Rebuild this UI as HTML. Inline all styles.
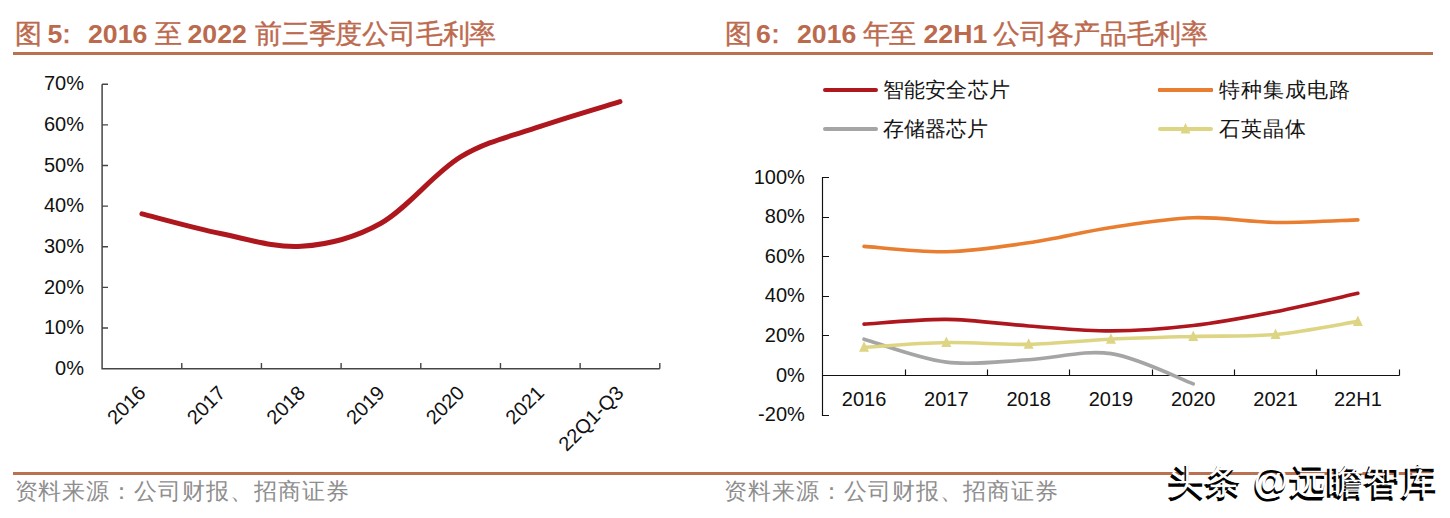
<!DOCTYPE html>
<html><head><meta charset="utf-8"><style>
html,body{margin:0;padding:0;background:#fff;width:1450px;height:518px;overflow:hidden;position:relative}
.t{position:absolute;font-family:"Liberation Sans",sans-serif;white-space:nowrap}
.title{font-size:26.67px;font-weight:bold;color:#BC6A4E;line-height:30px;top:19px}
.tc{font-weight:400;letter-spacing:-0.2px;-webkit-text-stroke:0.4px #BC6A4E}
.src{font-size:23px;letter-spacing:0.95px;color:#8E8E8E;line-height:28px;font-family:"Liberation Serif",serif;font-weight:300;top:477.5px}
.leg{font-size:21px;color:#151515;line-height:24px;letter-spacing:1px;font-family:"Liberation Serif",serif}
.rule{position:absolute;background:#B97152;height:3px}
svg{position:absolute;left:0;top:0}
.lab{font-family:"Liberation Sans",sans-serif;font-size:20px;fill:#111}
.wm{position:absolute;font-family:"Liberation Sans",sans-serif;font-size:36px;white-space:nowrap;line-height:40px;letter-spacing:1.1px;font-weight:700}
.wm1{color:#000}
.wm2{color:#fff;font-weight:400}
</style></head><body>
<div class="rule" style="left:13px;top:52px;width:1420px"></div>
<div class="rule" style="left:13px;top:472px;width:1420px;height:2.6px"></div>
<div class="t title tc" style="left:15px">图</div>
<div class="t title" style="left:47.5px">5</div>
<div class="t title tc" style="left:52.5px">：</div>
<div class="t title" style="left:88px">2016</div>
<div class="t title tc" style="left:154.5px">至</div>
<div class="t title" style="left:187.5px">2022</div>
<div class="t title tc" style="left:255px">前三季度公司毛利率</div>
<div class="t title tc" style="left:725px">图</div>
<div class="t title" style="left:756px">6</div>
<div class="t title tc" style="left:762px">：</div>
<div class="t title" style="left:797px">2016</div>
<div class="t title tc" style="left:862.5px">年至</div>
<div class="t title" style="left:923.5px">22H1</div>
<div class="t title tc" style="left:993px">公司各产品毛利率</div>
<div class="t src" style="left:14.5px">资料来源：公司财报、招商证券</div>
<div class="t src" style="left:724px">资料来源：公司财报、招商证券</div>
<div class="t leg" style="left:882.5px;top:78px;letter-spacing:0.3px">智能安全芯片</div>
<div class="t leg" style="left:883px;top:117px;letter-spacing:0.1px">存储器芯片</div>
<div class="t leg" style="left:1219px;top:78px">特种集成电路</div>
<div class="t leg" style="left:1219px;top:117px">石英晶体</div>
<svg width="1450" height="518" viewBox="0 0 1450 518">
<path d="M102.10,84.20 H108 M102.1,84.20 V368.7 H659.8" fill="none" stroke="#454545" stroke-width="1.5"/>
<path d="M102.1,328.06 H108 M102.1,287.41 H108 M102.1,246.77 H108 M102.1,206.13 H108 M102.1,165.49 H108 M102.1,124.84 H108 M181.77,368.7 V363 M261.44,368.7 V363 M341.11,368.7 V363 M420.79,368.7 V363 M500.46,368.7 V363 M580.13,368.7 V363 M659.80,368.7 V363" fill="none" stroke="#454545" stroke-width="1.4"/>
<text x="84" y="374.80" text-anchor="end" class="lab">0%</text>
<text x="84" y="334.16" text-anchor="end" class="lab">10%</text>
<text x="84" y="293.51" text-anchor="end" class="lab">20%</text>
<text x="84" y="252.87" text-anchor="end" class="lab">30%</text>
<text x="84" y="212.23" text-anchor="end" class="lab">40%</text>
<text x="84" y="171.59" text-anchor="end" class="lab">50%</text>
<text x="84" y="130.94" text-anchor="end" class="lab">60%</text>
<text x="84" y="90.30" text-anchor="end" class="lab">70%</text>
<text x="146.94" y="394.10" text-anchor="end" class="lab" transform="rotate(-45 146.94 394.10)">2016</text>
<text x="226.61" y="394.10" text-anchor="end" class="lab" transform="rotate(-45 226.61 394.10)">2017</text>
<text x="306.28" y="394.10" text-anchor="end" class="lab" transform="rotate(-45 306.28 394.10)">2018</text>
<text x="385.95" y="394.10" text-anchor="end" class="lab" transform="rotate(-45 385.95 394.10)">2019</text>
<text x="465.62" y="394.10" text-anchor="end" class="lab" transform="rotate(-45 465.62 394.10)">2020</text>
<text x="545.29" y="394.10" text-anchor="end" class="lab" transform="rotate(-45 545.29 394.10)">2021</text>
<text x="624.96" y="394.10" text-anchor="end" class="lab" transform="rotate(-45 624.96 394.10)">22Q1-Q3</text>
<path d="M141.94,213.85 C155.21,217.17 195.05,228.35 221.61,233.77 C248.16,239.18 274.72,248.13 301.28,246.36 C327.84,244.60 354.39,238.10 380.95,223.20 C407.51,208.30 434.06,173.07 460.62,156.95 C487.18,140.83 513.74,135.68 540.29,126.47 C566.85,117.26 606.69,105.81 619.96,101.68" fill="none" stroke="#AE171D" stroke-width="5" stroke-linecap="round"/>
<path d="M829,177.5 H822.5 V415.5 H829 M822.5,375.5 H1399.5 M822.5,335.5 H829 M822.5,296.5 H829 M822.5,256.5 H829 M822.5,217.5 H829 M905.5,375.5 V369.4 M987.5,375.5 V369.4 M1069.5,375.5 V369.4 M1152.5,375.5 V369.4 M1234.5,375.5 V369.4 M1316.5,375.5 V369.4 M1399.5,375.5 V369.4" fill="none" stroke="#111" stroke-width="1.15"/>
<text x="804.8" y="421.10" text-anchor="end" class="lab">-20%</text>
<text x="804.8" y="381.52" text-anchor="end" class="lab">0%</text>
<text x="804.8" y="341.93" text-anchor="end" class="lab">20%</text>
<text x="804.8" y="302.35" text-anchor="end" class="lab">40%</text>
<text x="804.8" y="262.77" text-anchor="end" class="lab">60%</text>
<text x="804.8" y="223.18" text-anchor="end" class="lab">80%</text>
<text x="804.8" y="183.60" text-anchor="end" class="lab">100%</text>
<text x="864.05" y="406" text-anchor="middle" class="lab">2016</text>
<text x="946.35" y="406" text-anchor="middle" class="lab">2017</text>
<text x="1028.65" y="406" text-anchor="middle" class="lab">2018</text>
<text x="1110.95" y="406" text-anchor="middle" class="lab">2019</text>
<text x="1193.25" y="406" text-anchor="middle" class="lab">2020</text>
<text x="1275.55" y="406" text-anchor="middle" class="lab">2021</text>
<text x="1357.85" y="406" text-anchor="middle" class="lab">22H1</text>
<path d="M864.05,246.38 C877.77,247.27 918.92,252.31 946.35,251.72 C973.78,251.12 1001.22,246.84 1028.65,242.81 C1056.08,238.79 1083.52,231.76 1110.95,227.57 C1138.38,223.38 1165.82,218.53 1193.25,217.68 C1220.68,216.82 1248.12,222.06 1275.55,222.43 C1302.98,222.79 1344.13,220.28 1357.85,219.85" fill="none" stroke="#E97D30" stroke-width="3.6" stroke-linecap="round"/>
<path d="M864.05,324.16 C877.77,323.36 918.92,319.11 946.35,319.41 C973.78,319.70 1001.22,324.02 1028.65,325.94 C1056.08,327.85 1083.52,330.95 1110.95,330.89 C1138.38,330.82 1165.82,328.74 1193.25,325.54 C1220.68,322.34 1248.12,317.06 1275.55,311.69 C1302.98,306.31 1344.13,296.35 1357.85,293.28" fill="none" stroke="#AE171D" stroke-width="3.6" stroke-linecap="round"/>
<path d="M864.05,339.20 C877.77,343.02 918.92,358.73 946.35,362.16 C973.78,365.59 1001.22,361.20 1028.65,359.78 C1056.08,358.36 1083.52,349.62 1110.95,353.65 C1138.38,357.67 1179.53,378.88 1193.25,383.93" fill="none" stroke="#A5A5A5" stroke-width="3.6" stroke-linecap="round"/>
<path d="M864.05,347.31 C877.77,346.52 918.92,343.06 946.35,342.56 C973.78,342.07 1001.22,344.90 1028.65,344.34 C1056.08,343.78 1083.52,340.52 1110.95,339.20 C1138.38,337.88 1165.82,337.22 1193.25,336.43 C1220.68,335.64 1248.12,336.95 1275.55,334.45 C1302.98,331.94 1344.13,323.56 1357.85,321.39" fill="none" stroke="#DDD584" stroke-width="3.6" stroke-linecap="round"/>
<path d="M864.05,341.31 L869.05,351.81 L859.05,351.81 Z" fill="#DDD584"/>
<path d="M946.35,336.56 L951.35,347.06 L941.35,347.06 Z" fill="#DDD584"/>
<path d="M1028.65,338.34 L1033.65,348.84 L1023.65,348.84 Z" fill="#DDD584"/>
<path d="M1110.95,333.20 L1115.95,343.70 L1105.95,343.70 Z" fill="#DDD584"/>
<path d="M1193.25,330.43 L1198.25,340.93 L1188.25,340.93 Z" fill="#DDD584"/>
<path d="M1275.55,328.45 L1280.55,338.95 L1270.55,338.95 Z" fill="#DDD584"/>
<path d="M1357.85,315.39 L1362.85,325.89 L1352.85,325.89 Z" fill="#DDD584"/>
<path d="M825,90 H876 M1160,90 H1211" stroke-width="4" stroke-linecap="round" fill="none" stroke="#AE171D"/>
<path d="M1160,90 H1211" stroke-width="4" stroke-linecap="round" fill="none" stroke="#E97D30"/>
<path d="M825,129 H876" stroke-width="4" stroke-linecap="round" fill="none" stroke="#A5A5A5"/>
<path d="M1160,129 H1211" stroke-width="4" stroke-linecap="round" fill="none" stroke="#DDD584"/>
<path d="M1185.5,123 L1190.5,133.5 L1180.5,133.5 Z" fill="#DDD584"/>
</svg>
<div class="wm wm1" style="left:1167px;top:464px">头条 @远瞻智库</div>
<div class="wm wm2" style="left:1167.5px;top:461px">头条 @远瞻智库</div>
</body></html>
